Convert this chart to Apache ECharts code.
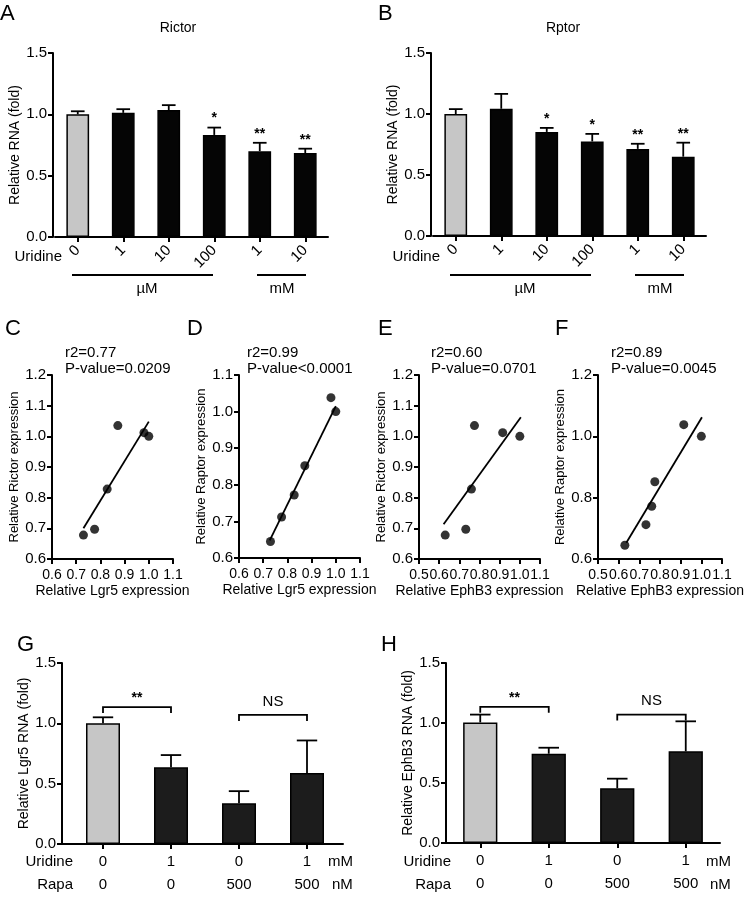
<!DOCTYPE html>
<html><head><meta charset="utf-8">
<script src="https://cdn.jsdelivr.net/npm/echarts@6/dist/echarts.min.js"></script>
<style>html,body{margin:0;padding:0;background:#fff}#c{width:756px;height:899px}</style>
</head><body><div id="c"></div>
<script>
// ---------- DATA ----------
// Panels A/B: uridine dose (µM: 0,1,10,100 ; mM: 1,10)
const uridineCats = ['0', '1', '10', '100', '1', '10'];
const rictorVals = [1.0, 1.012, 1.035, 0.832, 0.700, 0.685];
const rictorErr  = [0.025, 0.03, 0.04, 0.06, 0.068, 0.035];
const rictorSig  = ['', '', '', '*', '**', '**'];
const rptorVals  = [1.0, 1.043, 0.853, 0.775, 0.714, 0.650];
const rptorErr   = [0.04, 0.122, 0.033, 0.062, 0.042, 0.115];
const rptorSig   = ['', '', '*', '*', '**', '**'];

// Panels C-F: correlation (one point per condition)
const lgr5Expr   = [1.0, 0.980, 0.872, 0.828, 0.776, 0.730];
const ephb3Expr  = [1.0, 0.915, 0.775, 0.760, 0.732, 0.630];
const rictorExpr = [1.0, 1.012, 1.035, 0.828, 0.697, 0.678];
const raptorExpr = [1.0, 1.038, 0.852, 0.772, 0.712, 0.645];
const fitC = [[0.730, 0.700], [1.000, 1.048]];
const fitD = [[0.727, 0.648], [1.000, 1.015]];
const fitE = [[0.622, 0.713], [1.005, 1.062]];
const fitF = [[0.637, 0.653], [1.003, 1.062]];
const statC = ['r2=0.77', 'P-value=0.0209'];
const statD = ['r2=0.99', 'P-value<0.0001'];
const statE = ['r2=0.60', 'P-value=0.0701'];
const statF = ['r2=0.89', 'P-value=0.0045'];

// Panels G/H: uridine (mM) x rapamycin (nM)
const uridineGH = ['0', '1', '0', '1'];
const rapaGH    = ['0', '0', '500', '500'];
const lgr5RNA   = [1.0, 0.637, 0.338, 0.588];
const lgr5Err   = [0.05, 0.10, 0.10, 0.27];
const ephb3RNA  = [1.005, 0.744, 0.456, 0.764];
const ephb3Err  = [0.065, 0.05, 0.08, 0.25];
const bracketsG = [[0, 1, 1.135, '**'], [2, 3, 1.07, 'NS']];
const bracketsH = [[0, 1, 1.135, '**'], [2, 3, 1.07, 'NS']];

// ---------- STYLE HELPERS ----------
const FONT = "'Liberation Sans', Arial, Helvetica, sans-serif";
const BLACK = '#000';
const GREY = '#c6c6c6';
const axLine = () => ({show: true, lineStyle: {color: BLACK, width: 2}});
const axTick = (extra) => Object.assign({show: true, length: 5, lineStyle: {color: BLACK, width: 2}}, extra || {});
const lbl = (extra) => Object.assign({color: BLACK, fontSize: 15, fontFamily: FONT}, extra || {});
const nameStyle = (size) => ({color: BLACK, fontSize: size || 13, fontFamily: FONT});
const fx1 = v => v.toFixed(1);

function valueY(gi, min, max, interval, name, gap, nsize, extra) {
  return Object.assign({
    gridIndex: gi, type: 'value', min, max, interval,
    axisLine: axLine(), axisTick: axTick(), splitLine: {show: false},
    axisLabel: lbl({formatter: fx1, margin: 6}),
    name, nameLocation: 'middle', nameGap: gap, nameTextStyle: nameStyle(nsize)
  }, extra || {});
}
function scatterX(gi, min, name) {
  return {
    gridIndex: gi, type: 'value', min, max: 1.1, interval: 0.1,
    axisLine: axLine(), axisTick: axTick(), splitLine: {show: false},
    axisLabel: lbl({formatter: fx1, margin: 9, fontSize: 14}),
    name, nameLocation: 'middle', nameGap: 25, nameTextStyle: nameStyle(14)
  };
}
function barData(vals) {
  return vals.map((v, i) => i === 0 ? {value: v, itemStyle: {color: GREY}} : v);
}
function barSeries(xi, vals, fill) {
  return {type: 'bar', xAxisIndex: xi, yAxisIndex: xi, data: barData(vals), barWidth: '50%',
    itemStyle: {color: fill, borderColor: BLACK, borderWidth: 1.5}, silent: true};
}
function errSeries(xi, vals, errs, sigs) {
  return {
    type: 'custom', xAxisIndex: xi, yAxisIndex: xi, silent: true, z: 5,
    data: vals.map((v, i) => [i, v, errs[i]]),
    renderItem: function (params, api) {
      const i = api.value(0), v = api.value(1), e = api.value(2);
      const b = api.coord([i, v]);
      const t = api.coord([i, v + e]);
      const half = api.size([1, 0])[0] * 0.15;
      const kids = [
        {type: 'line', shape: {x1: b[0], y1: b[1], x2: t[0], y2: t[1]}, style: {stroke: BLACK, lineWidth: 1.8}},
        {type: 'line', shape: {x1: t[0] - half, y1: t[1], x2: t[0] + half, y2: t[1]}, style: {stroke: BLACK, lineWidth: 1.8}}
      ];
      const s = sigs ? sigs[params.dataIndex] : '';
      if (s) kids.push({type: 'text', style: {text: s, x: t[0], y: t[1] - 2, align: 'center', verticalAlign: 'bottom',
        font: 'bold 14px ' + FONT, fill: BLACK}});
      return {type: 'group', children: kids};
    }
  };
}
function bracketSeries(xi, brackets) {
  return {
    type: 'custom', xAxisIndex: xi, yAxisIndex: xi, silent: true, z: 6,
    data: brackets.map(b => [b[0], b[1], b[2]]),
    renderItem: function (params, api) {
      const a = api.coord([api.value(0), api.value(2)]);
      const c = api.coord([api.value(1), api.value(2)]);
      const txt = brackets[params.dataIndex][3];
      const star = txt.indexOf('*') >= 0;
      return {type: 'group', children: [
        {type: 'polyline', shape: {points: [[a[0], a[1] + 6], [a[0], a[1]], [c[0], c[1]], [c[0], c[1] + 6]]},
          style: {stroke: BLACK, lineWidth: 1.8, fill: null}},
        {type: 'text', style: {text: txt, x: (a[0] + c[0]) / 2, y: a[1] - (star ? 2 : 6), align: 'center',
          verticalAlign: 'bottom', font: (star ? 'bold 14px ' : '15px ') + FONT, fill: BLACK}}
      ]};
    }
  };
}
function scatterSeries(gi, xs, ys) {
  return {type: 'scatter', xAxisIndex: gi, yAxisIndex: gi, data: xs.map((x, i) => [x, ys[i]]),
    symbolSize: 9, itemStyle: {color: BLACK}, silent: true, z: 4};
}
function fitSeries(gi, pts) {
  return {type: 'line', xAxisIndex: gi, yAxisIndex: gi, data: pts, symbol: 'none',
    lineStyle: {color: BLACK, width: 1.8}, silent: true, z: 3};
}
const catGH = uridineGH.map((u, i) => u + '\n' + rapaGH[i]);

// ---------- TEXT / ANNOTATIONS ----------
function T(text, x, y, size, align, extra) {
  return Object.assign({type: 'text', style: {text, x, y, font: size + 'px ' + FONT, fill: BLACK,
    align: align || 'left', verticalAlign: 'middle'}}, extra || {});
}
function L(x1, y1, x2, y2) {
  return {type: 'line', shape: {x1, y1, x2, y2}, style: {stroke: BLACK, lineWidth: 2}};
}
const graphics = [
  T('A', 0, 14, 22), T('B', 378, 14, 22), T('C', 5, 329, 22), T('D', 187, 329, 22),
  T('E', 378, 329, 22), T('F', 555, 329, 22), T('G', 17, 645, 22), T('H', 381, 645, 22),
  T('Rictor', 178, 28, 14, 'center'), T('Rptor', 563, 28, 14, 'center'),
  T('Uridine', 62, 257, 15, 'right'), T('Uridine', 440, 257, 15, 'right'),
  L(72, 275, 213, 275), L(257, 275, 306, 275), L(450, 275, 591, 275), L(635, 275, 684, 275),
  T('µM', 147, 289, 15, 'center'), T('mM', 282, 289, 15, 'center'),
  T('µM', 525, 289, 15, 'center'), T('mM', 660, 289, 15, 'center'),
  T(statC[0], 65, 353, 15), T(statC[1], 65, 369, 15),
  T(statD[0], 247, 353, 15), T(statD[1], 247, 369, 15),
  T(statE[0], 431, 353, 15), T(statE[1], 431, 369, 15),
  T(statF[0], 611, 353, 15), T(statF[1], 611, 369, 15),
  T('Uridine', 73, 862, 15, 'right'), T('Rapa', 73, 885, 15, 'right'),
  T('mM', 328, 862, 15), T('nM', 332, 885, 15),
  T('Uridine', 451, 862, 15, 'right'), T('Rapa', 451, 885, 15, 'right'),
  T('mM', 706, 862, 15), T('nM', 710, 885, 15)
];

const option = {
  animation: false,
  backgroundColor: '#fff',
  textStyle: {fontFamily: FONT, color: BLACK},
  grid: [
    {left: 55, top: 53, width: 273, height: 184},   // A
    {left: 433, top: 53, width: 273, height: 183},  // B
    {left: 52, top: 375, width: 121, height: 184},  // C
    {left: 239, top: 375, width: 121, height: 183}, // D
    {left: 419, top: 375, width: 121, height: 184}, // E
    {left: 598, top: 375, width: 124, height: 184}, // F
    {left: 62, top: 663, width: 281, height: 181},  // G frame
    {left: 69, top: 663, width: 272, height: 181},  // G bars
    {left: 446, top: 663, width: 274, height: 180}  // H
  ],
  xAxis: [
    {gridIndex: 0, type: 'category', data: uridineCats, axisLine: axLine(), axisTick: axTick({alignWithLabel: true}),
      axisLabel: lbl({rotate: 45, interval: 0, margin: 11, fontSize: 15})},
    {gridIndex: 1, type: 'category', data: uridineCats, axisLine: axLine(), axisTick: axTick({alignWithLabel: true}),
      axisLabel: lbl({rotate: 45, interval: 0, margin: 11, fontSize: 15})},
    scatterX(2, 0.6, 'Relative Lgr5 expression'),
    scatterX(3, 0.6, 'Relative Lgr5 expression'),
    scatterX(4, 0.5, 'Relative EphB3 expression'),
    scatterX(5, 0.5, 'Relative EphB3 expression'),
    {gridIndex: 6, type: 'value', min: 0, max: 1, axisLine: axLine(), axisTick: {show: false},
      axisLabel: {show: false}, splitLine: {show: false}},
    {gridIndex: 7, type: 'category', data: catGH, axisLine: {show: false}, axisTick: axTick({alignWithLabel: true}),
      axisLabel: lbl({interval: 0, margin: 6, fontSize: 15, lineHeight: 23})},
    {gridIndex: 8, type: 'category', data: catGH, axisLine: axLine(), axisTick: axTick({alignWithLabel: true}),
      axisLabel: lbl({interval: 0, margin: 6, fontSize: 15, lineHeight: 23})}
  ],
  yAxis: [
    valueY(0, 0, 1.5, 0.5, 'Relative RNA (fold)', 30, 14, {offset: 2}),
    valueY(1, 0, 1.5, 0.5, 'Relative RNA (fold)', 30, 14, {offset: 2}),
    valueY(2, 0.6, 1.2, 0.1, 'Relative Rictor expression', 29, 13),
    valueY(3, 0.6, 1.1, 0.1, 'Relative Raptor expression', 26, 13),
    valueY(4, 0.6, 1.2, 0.1, 'Relative Rictor expression', 29, 13),
    valueY(5, 0.6, 1.2, 0.2, 'Relative Raptor expression', 24, 13),
    valueY(6, 0, 1.5, 0.5, 'Relative Lgr5 RNA (fold)', 26, 14),
    {gridIndex: 7, type: 'value', min: 0, max: 1.5, show: false},
    valueY(8, 0, 1.5, 0.5, 'Relative EphB3 RNA (fold)', 31, 14)
  ],
  series: [
    barSeries(0, rictorVals, '#050505'), errSeries(0, rictorVals, rictorErr, rictorSig),
    barSeries(1, rptorVals, '#050505'), errSeries(1, rptorVals, rptorErr, rptorSig),
    fitSeries(2, fitC), scatterSeries(2, lgr5Expr, rictorExpr),
    fitSeries(3, fitD), scatterSeries(3, lgr5Expr, raptorExpr),
    fitSeries(4, fitE), scatterSeries(4, ephb3Expr, rictorExpr),
    fitSeries(5, fitF), scatterSeries(5, ephb3Expr, raptorExpr),
    barSeries(7, lgr5RNA, '#1c1c1c'), errSeries(7, lgr5RNA, lgr5Err, null), bracketSeries(7, bracketsG),
    barSeries(8, ephb3RNA, '#1c1c1c'), errSeries(8, ephb3RNA, ephb3Err, null), bracketSeries(8, bracketsH)
  ],
  graphic: graphics
};
const chart = echarts.init(document.getElementById('c'));
chart.setOption(option);
</script></body></html>
